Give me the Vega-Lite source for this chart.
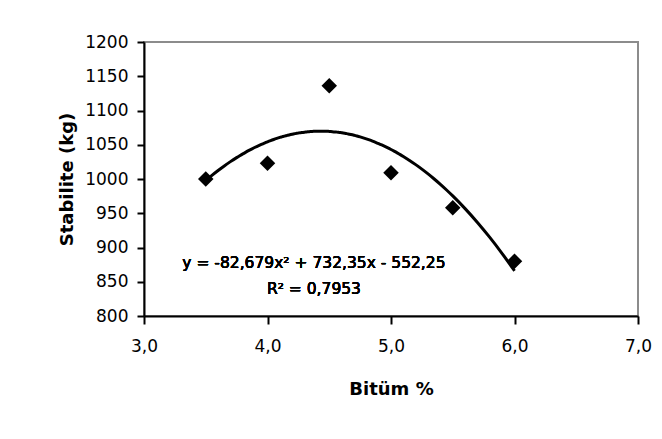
{
  "$schema": "https://vega.github.io/schema/vega-lite/v6.json",
  "autosize": {"type": "none"},
  "width": 494,
  "height": 274,
  "padding": {"left": 144, "top": 42, "right": 24, "bottom": 123},
  "background": "white",
  "config": {
    "locale": {"number": {"decimal": ",", "thousands": ".", "grouping": [3], "currency": ["", ""]}},
    "font": "DejaVu Sans",
    "view": {"stroke": "#8c8c8c", "strokeWidth": 2}
  },
  "data": {
    "values": [
      {"bitum": 3.5, "stabilite": 1000},
      {"bitum": 4.0, "stabilite": 1023},
      {"bitum": 4.5, "stabilite": 1136},
      {"bitum": 5.0, "stabilite": 1009},
      {"bitum": 5.5, "stabilite": 958},
      {"bitum": 6.0, "stabilite": 880}
    ]
  },
  "encoding": {
    "x": {
      "field": "bitum", "type": "quantitative",
      "scale": {"domain": [3, 7], "nice": false, "zero": false},
      "axis": {
        "title": "Bitüm %", "values": [3, 4, 5, 6, 7], "format": ".1f",
        "grid": false, "labelOverlap": false, "labelBound": false, "labelFlush": false,
        "domainColor": "black", "domainWidth": 2, "tickColor": "black", "tickWidth": 2, "tickSize": 8,
        "labelFont": "DejaVu Sans", "labelFontSize": 17, "labelColor": "black", "labelPadding": 14,
        "titleFont": "DejaVu Sans", "titleFontSize": 18, "titleFontWeight": "bold", "titleColor": "black", "titlePadding": 26
      }
    },
    "y": {
      "field": "stabilite", "type": "quantitative",
      "scale": {"domain": [800, 1200], "nice": false, "zero": false},
      "axis": {
        "title": "Stabilite (kg)", "values": [800, 850, 900, 950, 1000, 1050, 1100, 1150, 1200], "format": "d",
        "grid": false, "labelOverlap": false, "labelBound": false, "labelFlush": false,
        "domainColor": "black", "domainWidth": 2, "tickColor": "black", "tickWidth": 2, "tickSize": 7,
        "labelFont": "DejaVu Sans", "labelFontSize": 17, "labelColor": "black", "labelPadding": 9,
        "titleFont": "DejaVu Sans", "titleFontSize": 18, "titleFontWeight": "bold", "titleColor": "black", "titlePadding": 8
      }
    }
  },
  "layer": [
    {
      "transform": [
        {"regression": "stabilite", "on": "bitum", "method": "poly", "order": 2, "extent": [3.5, 6.0]}
      ],
      "mark": {"type": "line", "color": "black", "strokeWidth": 3, "interpolate": "monotone"}
    },
    {
      "mark": {"type": "point", "shape": "diamond", "filled": true, "color": "black", "size": 240, "opacity": 1}
    },
    {
      "mark": {"type": "text", "fontSize": 15.5, "color": "black", "font": "DejaVu Sans"},
      "encoding": {
        "x": {"datum": 4.376, "type": "quantitative"},
        "y": {"datum": 878, "type": "quantitative"},
        "text": {"value": "y = -82,679x² + 732,35x - 552,25"}
      }
    },
    {
      "mark": {"type": "text", "fontSize": 15.5, "color": "black", "font": "DejaVu Sans"},
      "encoding": {
        "x": {"datum": 4.376, "type": "quantitative"},
        "y": {"datum": 840, "type": "quantitative"},
        "text": {"value": "R² = 0,7953"}
      }
    }
  ]
}
